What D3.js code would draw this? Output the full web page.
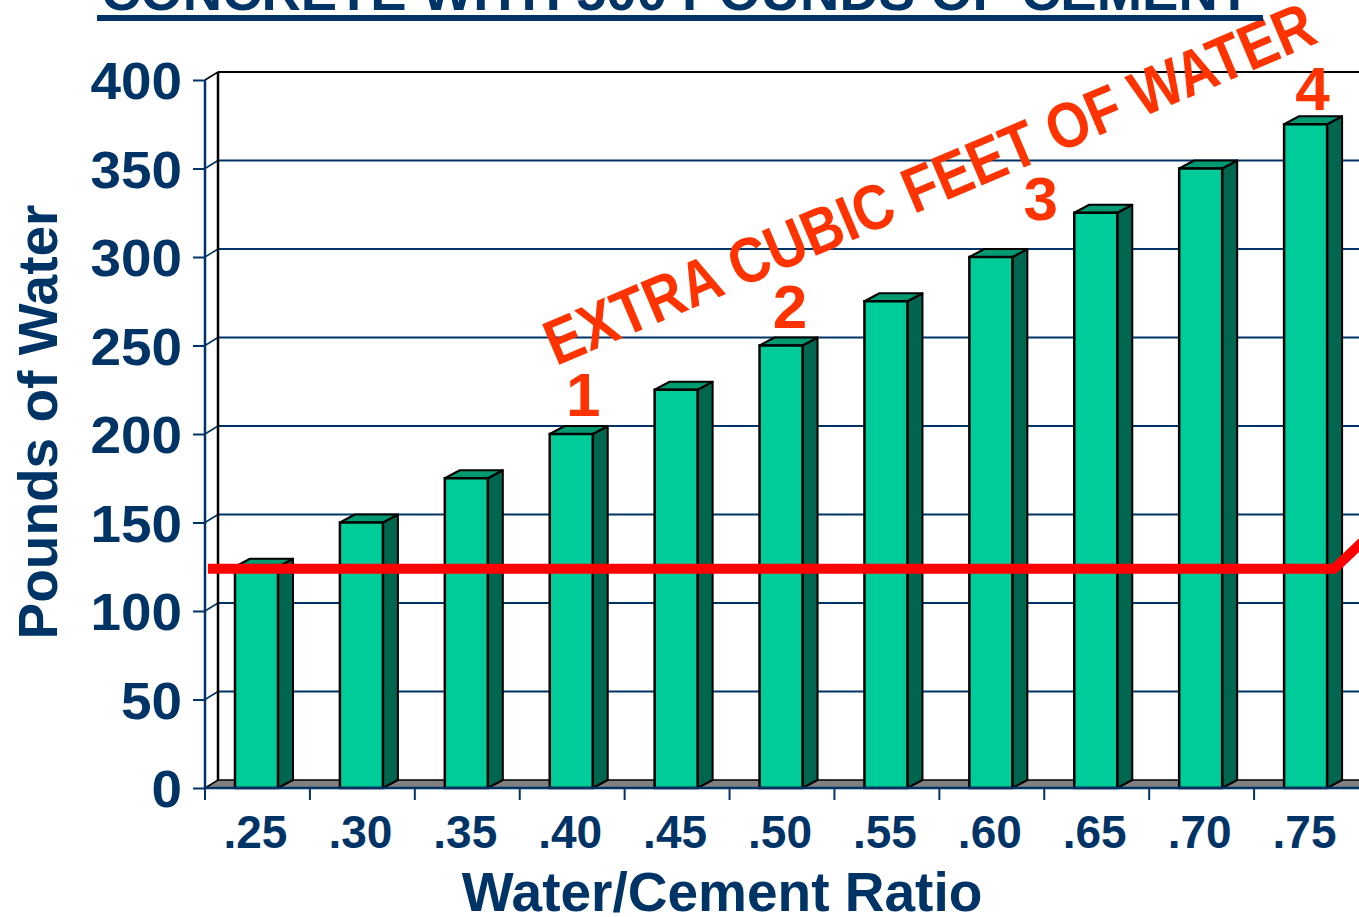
<!DOCTYPE html>
<html>
<head>
<meta charset="utf-8">
<script src="https://cdn.jsdelivr.net/npm/d3@7"></script>
<style>
  html, body { margin: 0; padding: 0; background: #ffffff; overflow: hidden; }
  svg { display: block; }
  text { font-family: "Liberation Sans", Arial, sans-serif; font-weight: bold; }
</style>
</head>
<body>
<svg id="chart" width="1359" height="917"></svg>
<script>
// Water content of concrete mixed with 500 lb of cement
const ratios = [".25", ".30", ".35", ".40", ".45", ".50", ".55", ".60", ".65", ".70", ".75"];
const waterPounds = [125, 150, 175, 200, 225, 250, 275, 300, 325, 350, 375];
const yTicks = [0, 50, 100, 150, 200, 250, 300, 350, 400];
const hydrationWater = 125;
const extraLabels = ["1", "2", "3", "4"];
const extraLabelRatios = [".40", ".50", ".60", ".75"];

const navy = "#003366";
const orange = "#ff3300";

const W = 1359, H = 917;
const svg = d3.select("#chart");

const x = d3.scaleBand().domain(ratios).range([205, 1359]).padding(0);
const y = d3.scaleLinear().domain([0, 400]).range([788, 80]);

// 3-D depth of the walls and of the bars
const wall = { dx: 13, dy: -8 };
const bar = { dx: 15, dy: -8 };
const barW = 43;
const barOff = 30;

const [x0, x1] = x.range();

// back wall gridlines
const grid = svg.append("g");
yTicks.filter(d => d > 0).forEach(d => {
  grid.append("line")
    .attr("x1", x0 + wall.dx).attr("x2", W)
    .attr("y1", y(d) + wall.dy).attr("y2", y(d) + wall.dy)
    .attr("stroke", d === 400 ? "#000" : navy)
    .attr("stroke-width", 2);
  grid.append("line")
    .attr("x1", x0).attr("x2", x0 + wall.dx)
    .attr("y1", y(d)).attr("y2", y(d) + wall.dy)
    .attr("stroke", d === 400 ? "#000" : navy)
    .attr("stroke-width", 1.5);
});

// back wall vertical edge
svg.append("line")
  .attr("x1", x0 + wall.dx).attr("x2", x0 + wall.dx)
  .attr("y1", y(400) + wall.dy).attr("y2", y(0) + wall.dy)
  .attr("stroke", "#000").attr("stroke-width", 2.5);

// floor
svg.append("path")
  .attr("d", `M${x0},${y(0)} L${x0 + wall.dx},${y(0) + wall.dy} L${W + 20},${y(0) + wall.dy} L${W + 20},${y(0)} Z`)
  .attr("fill", "#808080").attr("stroke", "#000").attr("stroke-width", 1.5);

// bars
const bars = svg.append("g").selectAll("g").data(ratios).join("g");
bars.each(function (r, i) {
  const g = d3.select(this);
  const v = waterPounds[i];
  const bx = x(r) + barOff;
  const top = y(v), base = y(0);
  // side
  g.append("path")
    .attr("d", `M${bx + barW},${base} L${bx + barW},${top} L${bx + barW + bar.dx},${top + bar.dy} L${bx + barW + bar.dx},${base + bar.dy} Z`)
    .attr("fill", "#006650").attr("stroke", "#000").attr("stroke-width", 2).attr("stroke-linejoin", "round");
  // top
  g.append("path")
    .attr("d", `M${bx},${top} L${bx + bar.dx},${top + bar.dy} L${bx + barW + bar.dx},${top + bar.dy} L${bx + barW},${top} Z`)
    .attr("fill", "#009a72").attr("stroke", "#000").attr("stroke-width", 2).attr("stroke-linejoin", "round");
  // front
  g.append("rect")
    .attr("x", bx).attr("y", top).attr("width", barW).attr("height", base - top)
    .attr("fill", "#00cc99").attr("stroke", "#000").attr("stroke-width", 2.5);
});

// y axis
const yAxis = svg.append("g")
  .attr("transform", `translate(${x0},0)`)
  .call(d3.axisLeft(y).tickValues(yTicks).tickSize(12).tickPadding(11).tickFormat(d3.format("d")));
yAxis.select(".domain").attr("stroke", navy).attr("stroke-width", 2.5).attr("d", `M0,${y(0)}V${y(400)}`);
yAxis.selectAll(".tick line").attr("stroke", navy).attr("stroke-width", 2);
yAxis.selectAll(".tick text")
  .attr("fill", navy).attr("font-size", 52).attr("font-family", "Liberation Sans, Arial, sans-serif")
  .attr("font-weight", "bold").attr("dy", "0.36em")
  .attr("textLength", d => String(d).length * 30.5).attr("lengthAdjust", "spacingAndGlyphs");

// x axis
const xAxis = svg.append("g")
  .attr("transform", `translate(0,${y(0)})`)
  .call(d3.axisBottom(x).tickSize(0).tickPadding(27));
xAxis.select(".domain").attr("stroke", navy).attr("stroke-width", 2.5).attr("d", `M${x0},0H${W}`);
xAxis.selectAll(".tick text")
  .attr("fill", navy).attr("font-size", 46).attr("font-family", "Liberation Sans, Arial, sans-serif")
  .attr("font-weight", "bold").attr("dy", "0.71em").attr("dx", -2);
// category separators
svg.append("g").selectAll("line").data(ratios).join("line")
  .attr("x1", d => x(d)).attr("x2", d => x(d))
  .attr("y1", y(0)).attr("y2", y(0) + 12)
  .attr("stroke", navy).attr("stroke-width", 2);

// hydration water line
const lineY = y(hydrationWater) + 2;
const lastEnd = x(ratios[ratios.length - 1]) + barOff + barW + 7;
svg.append("path")
  .attr("d", d3.line()([[x0 + 3, lineY], [lastEnd, lineY], [lastEnd + 40, lineY - 38]]))
  .attr("fill", "none").attr("stroke", "#ff0000").attr("stroke-width", 10);

// annotation
svg.append("text")
  .attr("transform", "translate(938,204) rotate(-23)")
  .attr("text-anchor", "middle")
  .attr("fill", orange).attr("font-size", 64)
  .attr("textLength", 830).attr("lengthAdjust", "spacingAndGlyphs")
  .text("EXTRA CUBIC FEET OF WATER");

const labelNudge = { ".40": [11, -18], ".50": [8, -18], ".60": [49, -37], ".75": [6, -14] };
extraLabelRatios.forEach((r, i) => {
  const v = waterPounds[ratios.indexOf(r)];
  const n = labelNudge[r];
  svg.append("text")
    .attr("x", x(r) + x.bandwidth() / 2 + n[0])
    .attr("y", y(v) + n[1])
    .attr("text-anchor", "middle")
    .attr("fill", orange).attr("font-size", 62)
    .text(extraLabels[i]);
});

// axis titles
svg.append("text")
  .attr("transform", "translate(57,422) rotate(-90)")
  .attr("text-anchor", "middle").attr("fill", navy).attr("font-size", 55)
  .text("Pounds of Water");

svg.append("text")
  .attr("x", 722).attr("y", 911)
  .attr("text-anchor", "middle").attr("fill", navy).attr("font-size", 55)
  .text("Water/Cement Ratio");

// title
svg.append("text")
  .attr("x", 101).attr("y", 10)
  .attr("fill", navy).attr("font-size", 54)
  .attr("textLength", 1150).attr("lengthAdjust", "spacingAndGlyphs")
  .text("CONCRETE WITH 500 POUNDS OF CEMENT");
svg.append("rect")
  .attr("x", 97).attr("y", 15).attr("width", 1166).attr("height", 6)
  .attr("fill", navy);
</script>
</body>
</html>
